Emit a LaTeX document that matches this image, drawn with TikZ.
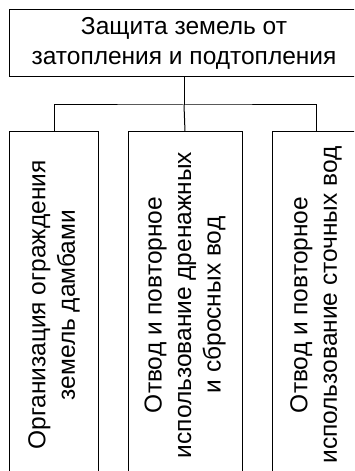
\documentclass[tikz,border=0pt]{standalone}
\usepackage{fontspec}
\setmainfont{Liberation Sans}
\usetikzlibrary{positioning}

\begin{document}
\begin{tikzpicture}[x=1bp, y=-1bp,
    box/.style={draw, line width=1bp, inner sep=0pt, align=center,
      font=\fontsize{24.5bp}{29.5bp}\selectfont},
    vbox/.style={box, rotate=90, minimum width=346bp, minimum height=88bp}]
      \useasboundingbox (0,0) rectangle (354,471);
      \clip (0,0) rectangle (354,471);
      % Top box
      \node[box, minimum width=348bp, minimum height=67bp] (root) at (184,43.5)
        {Защита земель от\\затопления и подтопления};
      % Lower boxes
      \node[vbox] (dams) at (54,305) {Организация ограждения\\земель дамбами};
      \node[vbox, minimum height=114bp] (drain) at (185,305)
        {Отвод и повторное\\использование дренажных\\и сбросных вод};
      \node[vbox] (sewage) at (316,305) {Отвод и повторное\\использование сточных вод};
      % Connectors
      \coordinate (fork) at (184,105);
      \draw[line width=1bp] (root.south) -- (fork);
      \draw[line width=1bp] (dams.east) |- (fork) -| (sewage.east);
      \draw[line width=1bp] (fork) -- (drain.east);
\end{tikzpicture}
\end{document}
